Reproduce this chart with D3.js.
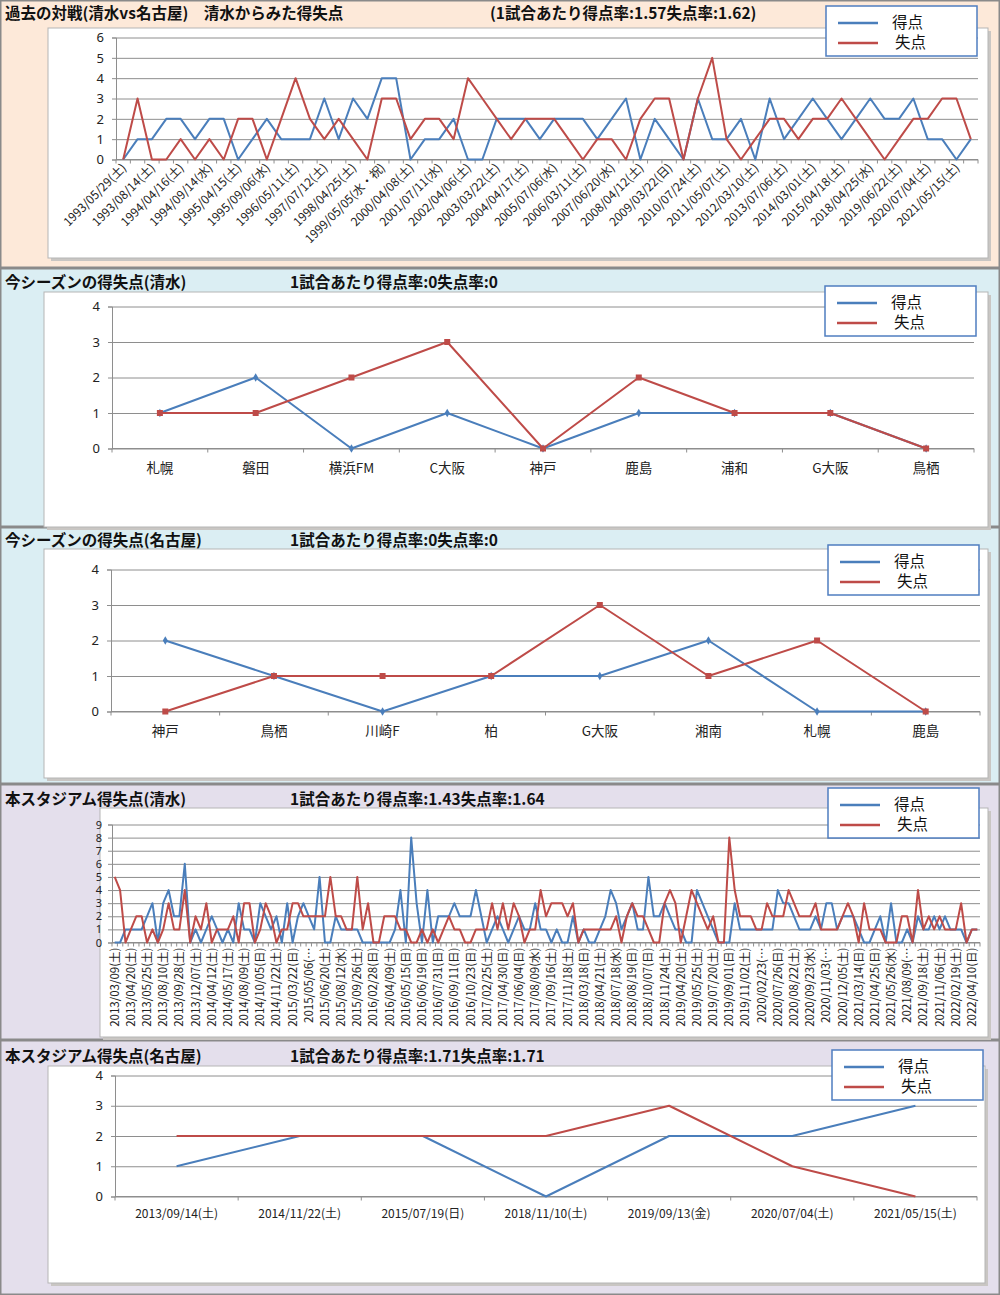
<!DOCTYPE html>
<html>
<head>
<meta charset="UTF-8">
<title>清水 vs 名古屋 得失点</title>
<script src="https://cdn.jsdelivr.net/npm/d3@7"></script>
<style>
  body { margin: 0; background: #fff; }
  svg { display: block; font-family: "Noto Sans CJK JP", "Noto Sans", sans-serif; }
</style>
</head>
<body>
<div id="chart"></div>
<script>
// ---- 過去の対戦 (60試合, ラベルは1つおき) ----
const histLabels = ["1993/05/29(土)","1993/08/14(土)","1994/04/16(土)","1994/09/14(水)","1995/04/15(土)","1995/09/06(水)",
  "1996/05/11(土)","1997/07/12(土)","1998/04/25(土)","1999/05/05(水・祝)","2000/04/08(土)","2001/07/11(水)",
  "2002/04/06(土)","2003/03/22(土)","2004/04/17(土)","2005/07/06(水)","2006/03/11(土)","2007/06/20(水)",
  "2008/04/12(土)","2009/03/22(日)","2010/07/24(土)","2011/05/07(土)","2012/03/10(土)","2013/07/06(土)",
  "2014/03/01(土)","2015/04/18(土)","2018/04/25(水)","2019/06/22(土)","2020/07/04(土)","2021/05/15(土)"];
const histGoals = [0,1,1,2,2,1,2,2,0,1, 2,1,1,1,3,1,3,2,4,4, 0,1,1,2,0,0,2,2,2,1,
  2,2,2,1,2,3,0,2,1,0, 3,1,1,2,0,3,1,2,3,2, 1,2,3,2,2,3,1,1,0,1];
const histConceded = [0,3,0,0,1,0,1,0,2,2, 0,2,4,2,1,2,1,0,3,3, 1,2,2,1,4,3,2,1,2,2,
  2,1,0,1,1,0,2,3,3,0, 3,5,1,0,1,2,2,1,2,2, 3,2,1,0,1,2,2,3,3,1];

// ---- 今シーズン (清水) ----
const s2Teams = ["札幌","磐田","横浜FM","C大阪","神戸","鹿島","浦和","G大阪","鳥栖"];
const s2Goals = [1,2,0,1,0,1,1,1,0];
const s2Conceded = [1,1,2,3,0,2,1,1,0];

// ---- 今シーズン (名古屋) ----
const n3Teams = ["神戸","鳥栖","川崎F","柏","G大阪","湘南","札幌","鹿島"];
const n3Goals = [2,1,0,1,1,2,0,0];
const n3Conceded = [0,1,1,1,3,1,2,0];

// ---- 本スタジアム (清水) 161試合, ラベルは3つおき ----
const stLabels = ["2013/03/09(土)","2013/04/20(土)","2013/05/25(土)","2013/08/10(土)","2013/09/28(土)","2013/12/07(土)",
  "2014/04/12(土)","2014/05/17(土)","2014/08/09(土)","2014/10/05(日)","2014/11/22(土)","2015/03/22(日)",
  "2015/05/06(…","2015/06/20(土)","2015/08/12(水)","2015/09/26(土)","2016/02/28(日)","2016/04/09(土)",
  "2016/05/15(日)","2016/06/19(日)","2016/07/31(日)","2016/09/11(日)","2016/10/23(日)","2017/02/25(土)",
  "2017/04/30(日)","2017/06/04(日)","2017/08/09(水)","2017/09/16(土)","2017/11/18(土)","2018/03/18(日)",
  "2018/04/21(土)","2018/07/18(水)","2018/08/19(日)","2018/10/07(日)","2018/11/24(土)","2019/04/20(土)",
  "2019/05/25(土)","2019/07/20(土)","2019/09/01(日)","2019/11/02(土)","2020/02/23(…","2020/07/26(日)",
  "2020/08/22(土)","2020/09/23(水)","2020/11/03(…","2020/12/05(土)","2021/03/14(日)","2021/04/25(日)",
  "2021/05/26(水)","2021/08/09(…","2021/09/18(土)","2021/11/06(土)","2022/02/19(土)","2022/04/10(日)"];
const stGoals = [0,0,1,1,1,1,2,3,0,3, 4,2,2,6,0,1,0,1,2,1, 0,1,0,3,1,1,0,3,2,1,
  2,0,3,0,2,3,2,1,5,0, 0,2,1,1,1,1,0,0,0,0, 0,0,1,4,0,8,3,0,4,0,
  2,2,2,3,2,2,2,4,2,0, 1,2,1,0,1,2,1,1,3,1, 1,0,1,0,0,2,0,1,0,0,
  1,2,4,3,1,2,3,1,1,5, 2,2,3,2,1,1,0,0,4,3, 2,1,0,0,0,3,1,1,1,1,
  1,1,1,4,3,3,2,1,1,1, 2,1,3,3,1,2,2,2,1,0, 0,1,2,0,3,0,0,1,0,2,
  1,1,2,1,2,1,1,1,0,1,1];
const stConceded = [5,4,0,1,2,2,0,1,0,1, 3,1,1,4,0,2,1,3,0,1, 1,1,2,0,3,3,0,1,3,2,
  0,1,1,3,3,2,2,2,2,2, 5,2,2,1,1,5,1,3,0,0, 2,2,2,1,1,0,0,1,0,1,
  0,1,2,1,1,0,0,1,1,1, 3,1,3,1,3,2,0,1,1,4, 2,3,3,3,2,3,0,1,1,1,
  1,1,1,2,0,2,3,2,2,1, 0,0,3,4,3,0,2,4,3,2, 1,2,0,0,8,4,2,2,2,1,
  1,3,2,2,2,4,3,2,2,2, 3,1,1,1,1,2,3,2,0,3, 1,1,1,0,0,0,2,2,0,4,
  1,2,1,2,1,1,1,3,0,1,1];

// ---- 本スタジアム (名古屋) ----
const n5Dates = ["2013/09/14(土)","2014/11/22(土)","2015/07/19(日)","2018/11/10(土)","2019/09/13(金)","2020/07/04(土)","2021/05/15(土)"];
const n5Goals = [1,2,2,0,2,2,3];
const n5Conceded = [2,2,2,2,3,1,0];

const W = 1000, H = 1295;
const BLUE = "#4a7ebb", RED = "#be4b48";

const svg = d3.select("#chart").append("svg").attr("width", W).attr("height", H);

// panel backgrounds
const bands = [
  {y0: 0, y1: 268, fill: "#fde9d9"},
  {y0: 268, y1: 527, fill: "#dbeef3"},
  {y0: 527, y1: 784, fill: "#dbeef3"},
  {y0: 784, y1: 1040, fill: "#e4dfec"},
  {y0: 1040, y1: 1295, fill: "#e4dfec"}
];
bands.forEach(b => {
  svg.append("rect").attr("x", 0.75).attr("y", b.y0 + 0.75)
     .attr("width", W - 1.5).attr("height", b.y1 - b.y0 - 1.5)
     .attr("fill", b.fill).attr("stroke", "#8a8a8a").attr("stroke-width", 1.5);
});

function drawPanel(cfg) {
  const g = svg.append("g");

  // titles
  g.append("text").attr("x", 5).attr("y", cfg.titleY).text(cfg.title)
   .style("font-size", "15.5px").style("font-weight", "bold").attr("fill", "#111");
  g.append("text").attr("x", cfg.subX).attr("y", cfg.titleY).text(cfg.sub)
   .style("font-size", "15.5px").style("font-weight", "bold").attr("fill", "#111");

  // chart box with shadow
  const [bx0, by0, bx1, by1] = cfg.box;
  g.append("rect").attr("x", bx0 + 3).attr("y", by0 + 3).attr("width", bx1 - bx0).attr("height", by1 - by0)
   .attr("fill", "#c9c6c3");
  g.append("rect").attr("x", bx0).attr("y", by0).attr("width", bx1 - bx0).attr("height", by1 - by0)
   .attr("fill", "#fff").attr("stroke", "#b5b5b5");

  const x = d3.scaleBand().domain(d3.range(cfg.n)).range([cfg.px0, cfg.px1]).padding(0);
  const y = d3.scaleLinear().domain([0, cfg.ymax]).range([cfg.py0, cfg.py1]);
  const cx = i => x(i) + x.bandwidth() / 2;

  // gridlines
  g.append("g").attr("transform", `translate(${cfg.px0},0)`)
   .call(d3.axisLeft(y).ticks(cfg.ymax).tickSize(-(cfg.px1 - cfg.px0)).tickFormat(""))
   .call(s => s.select(".domain").remove())
   .call(s => s.selectAll("line").attr("stroke", "#8e8e8e"));

  // y axis
  g.append("g").attr("transform", `translate(${cfg.px0},0)`)
   .call(d3.axisLeft(y).ticks(cfg.ymax).tickSize(4).tickPadding(cfg.yPad || 8).tickFormat(d3.format("d")))
   .call(s => s.select(".domain").attr("stroke", "#8e8e8e"))
   .call(s => s.selectAll("line").attr("stroke", "#8e8e8e"))
   .call(s => s.selectAll("text").attr("fill", "#222").style("font-size", (cfg.ySize || 13) + "px")
      .style("font-family", "'Noto Sans', 'Noto Sans CJK JP', sans-serif"));

  // x axis line + boundary ticks
  const edges = d3.range(cfg.n + 1).map(i => i < cfg.n ? x(i) : cfg.px1);
  g.append("line").attr("x1", cfg.px0).attr("x2", cfg.px1).attr("y1", cfg.py0).attr("y2", cfg.py0)
   .attr("stroke", "#8e8e8e");
  g.selectAll(".etick").data(edges).enter().append("line")
   .attr("x1", d => d).attr("x2", d => d).attr("y1", cfg.py0).attr("y2", cfg.py0 + 4)
   .attr("stroke", "#8e8e8e");

  // x labels
  const lab = g.append("g");
  cfg.labels.forEach((t, k) => {
    const i = k * cfg.labelStep;
    const tx = cx(i);
    const el = lab.append("text").text(t).attr("fill", "#222").style("font-size", cfg.labelSize + "px");
    if (cfg.rotate === -45) {
      el.attr("text-anchor", "end")
        .attr("transform", `translate(${tx + 4},${cfg.py0 + 9}) rotate(-45)`);
    } else if (cfg.rotate === -90) {
      el.attr("text-anchor", "end")
        .attr("transform", `translate(${tx + 4},${cfg.py0 + 5}) rotate(-90)`);
    } else {
      el.attr("text-anchor", "middle").attr("x", tx).attr("y", cfg.py0 + cfg.labelDy);
    }
  });

  // series lines
  const line = d3.line().x((d, i) => cx(i)).y(d => y(d));
  [[cfg.goals, BLUE], [cfg.conceded, RED]].forEach(([data, col]) => {
    g.append("path").datum(data).attr("d", line).attr("fill", "none")
     .attr("stroke", col).attr("stroke-width", cfg.lw).attr("stroke-linejoin", "round");
  });

  // markers
  if (cfg.markers) {
    g.selectAll(".mb").data(cfg.goals).enter().append("path")
     .attr("d", d3.symbol().type(d3.symbolDiamond).size(22))
     .attr("transform", (d, i) => `translate(${cx(i)},${y(d)})`).attr("fill", BLUE);
    g.selectAll(".mr").data(cfg.conceded).enter().append("rect")
     .attr("x", (d, i) => cx(i) - 3).attr("y", d => y(d) - 3).attr("width", 6).attr("height", 6)
     .attr("fill", RED);
  }

  // legend
  const [lx, ly] = cfg.legend;
  const lg = g.append("g").attr("transform", `translate(${lx},${ly})`);
  lg.append("rect").attr("x", 0).attr("y", 0).attr("width", 151).attr("height", 50)
    .attr("fill", "#fff").attr("stroke", "#4f7ec0").attr("stroke-width", 1.5);
  [["得点", BLUE, 17, 66], ["失点", RED, 37, 69]].forEach(([t, col, yy, tx]) => {
    lg.append("line").attr("x1", 12).attr("x2", 52).attr("y1", yy).attr("y2", yy)
      .attr("stroke", col).attr("stroke-width", 2.5);
    lg.append("text").attr("x", tx).attr("y", yy + 5).text(t).style("font-size", "15.5px").attr("fill", "#111");
  });
}

drawPanel({
  title: "過去の対戦(清水vs名古屋)　清水からみた得失点", sub: "(1試合あたり得点率:1.57失点率:1.62)",
  titleY: 19, subX: 490, box: [48, 28, 988, 258],
  n: histGoals.length, px0: 116, px1: 978, ymax: 6, py0: 159.5, py1: 37.5,
  labels: histLabels, labelStep: 2, rotate: -45, labelSize: 12,
  goals: histGoals, conceded: histConceded, lw: 2, markers: false, legend: [826, 6]
});

drawPanel({
  title: "今シーズンの得失点(清水)", sub: "1試合あたり得点率:0失点率:0",
  titleY: 288, subX: 290, box: [44, 292, 988, 527],
  n: s2Teams.length, px0: 112, px1: 974, ymax: 4, py0: 448.5, py1: 306.5,
  labels: s2Teams, labelStep: 1, rotate: 0, labelSize: 13.5, labelDy: 24,
  goals: s2Goals, conceded: s2Conceded, lw: 2, markers: true, legend: [825, 286]
});

drawPanel({
  title: "今シーズンの得失点(名古屋)", sub: "1試合あたり得点率:0失点率:0",
  titleY: 546, subX: 290, box: [44, 549, 988, 778],
  n: n3Teams.length, px0: 111, px1: 980, ymax: 4, py0: 711.5, py1: 569.5,
  labels: n3Teams, labelStep: 1, rotate: 0, labelSize: 13.5, labelDy: 24,
  goals: n3Goals, conceded: n3Conceded, lw: 2, markers: true, legend: [828, 545]
});

drawPanel({
  title: "本スタジアム得失点(清水)", sub: "1試合あたり得点率:1.43失点率:1.64",
  titleY: 805, subX: 290, box: [100, 808, 988, 1037],
  n: stGoals.length, px0: 112, px1: 980, ymax: 9, py0: 942.5, py1: 824.5, yPad: 6, ySize: 11,
  labels: stLabels, labelStep: 3, rotate: -90, labelSize: 11.5,
  goals: stGoals, conceded: stConceded, lw: 2, markers: false, legend: [828, 788]
});

drawPanel({
  title: "本スタジアム得失点(名古屋)", sub: "1試合あたり得点率:1.71失点率:1.71",
  titleY: 1062, subX: 290, box: [48, 1066, 985, 1283],
  n: n5Goals.length, px0: 115, px1: 977, ymax: 4, py0: 1196.5, py1: 1075.5,
  labels: n5Dates, labelStep: 1, rotate: 0, labelSize: 12, labelDy: 21,
  goals: n5Goals, conceded: n5Conceded, lw: 2, markers: false, legend: [832, 1050]
});
</script>
</body>
</html>
